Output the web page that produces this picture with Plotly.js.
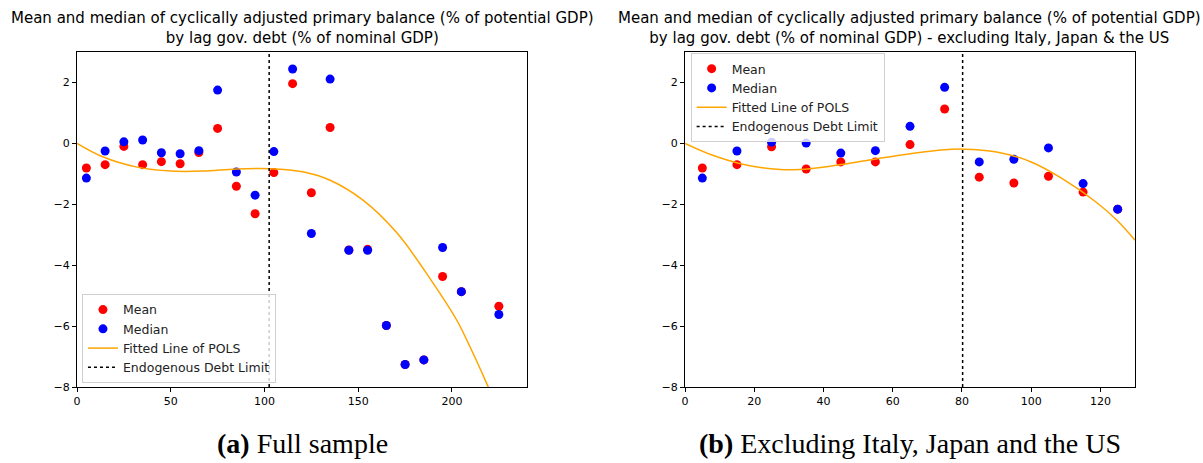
<!DOCTYPE html>
<html>
<head>
<meta charset="utf-8">
<script src="https://cdn.plot.ly/plotly-3.0.1.min.js"></script>
<style>html,body{margin:0;padding:0;background:#fff}#chart{width:1203px;height:463px}</style>
</head>
<body>
<div id="chart"></div>
<script>
// ---- Data ----
const leftDebt = [5,15,25,35,45,55,65,75,85,95,105,115,125,135,145,155,165,175,185,195,205,225];
const leftMean = [-0.81,-0.70,-0.10,-0.70,-0.60,-0.67,-0.30,0.49,-1.41,-2.31,-0.96,1.96,-1.62,0.52,-3.50,-3.48,-5.98,-7.26,-7.11,-4.37,-4.87,-5.35];
const leftMedian = [-1.14,-0.25,0.05,0.11,-0.31,-0.34,-0.24,1.75,-0.94,-1.70,-0.27,2.44,-2.96,2.11,-3.51,-3.51,-5.98,-7.26,-7.11,-3.42,-4.87,-5.62];
const leftFitX = [0,14,32,50,67,85,103,121,135,152.7,170.5,188.3,202.5,209.6,218.5,222];
const leftFitY = [0,-0.45,-0.78,-0.91,-0.91,-0.84,-0.83,-0.94,-1.21,-1.87,-2.93,-4.44,-5.80,-6.68,-7.88,-8.38];
const leftLimit = 102.5;

const rightDebt = [5,15,25,35,45,55,65,75,85,95,105,115,125];
const rightMean = [-0.81,-0.70,-0.11,-0.84,-0.61,-0.61,-0.04,1.13,-1.11,-1.30,-1.08,-1.60,-2.16];
const rightMedian = [-1.14,-0.25,0.04,0.01,-0.32,-0.24,0.56,1.84,-0.61,-0.52,-0.15,-1.32,-2.16];
const rightFitX = [0,8,18,27.5,33,42,51.5,61,74,80.5,90,100,109,119,125,130];
const rightFitY = [0,-0.39,-0.72,-0.86,-0.86,-0.75,-0.58,-0.41,-0.22,-0.19,-0.28,-0.61,-1.16,-1.95,-2.55,-3.18];
const rightLimit = 80.2;

const yRange = [-8, 3];
const leftTicks = [0,50,100,150,200];
const rightTicks = [0,20,40,60,80,100,120];
const yTicks = [-8,-6,-4,-2,0,2];

const titleA = "Mean and median of cyclically adjusted primary balance (% of potential GDP)<br>by lag gov. debt (% of nominal GDP)";
const titleB = "Mean and median of cyclically adjusted primary balance (% of potential GDP)<br>by lag gov. debt (% of nominal GDP) - excluding Italy, Japan & the US";
const captionA = "<b>(a)</b> Full sample";
const captionB = "<b>(b)</b> Excluding Italy, Japan and the US";

function panel(xa, ya, lg, debt, mean, median, fx, fy, limit) {
  return [
    {x: debt, y: mean, xaxis: xa, yaxis: ya, legend: lg, type: 'scatter', mode: 'markers', name: 'Mean',
     marker: {color: '#ff0000', size: 9}},
    {x: debt, y: median, xaxis: xa, yaxis: ya, legend: lg, type: 'scatter', mode: 'markers', name: 'Median',
     marker: {color: '#0000ff', size: 9}},
    {x: fx, y: fy, xaxis: xa, yaxis: ya, legend: lg, type: 'scatter', mode: 'lines', name: 'Fitted Line of POLS',
     line: {color: '#ffa500', width: 1.5, shape: 'spline', smoothing: 1}},
    {x: [limit, limit], y: yRange, xaxis: xa, yaxis: ya, legend: lg, type: 'scatter', mode: 'lines', name: 'Endogenous Debt Limit',
     line: {color: '#000000', width: 1.5, dash: 'dot'}}
  ];
}

const traces = [].concat(
  panel('x', 'y', 'legend', leftDebt, leftMean, leftMedian, leftFitX, leftFitY, leftLimit),
  panel('x2', 'y2', 'legend2', rightDebt, rightMean, rightMedian, rightFitX, rightFitY, rightLimit)
);

const axisBase = {
  showgrid: false, zeroline: false, showline: true, mirror: true, linecolor: '#000', linewidth: 1,
  ticks: 'outside', ticklen: 4, tickwidth: 1, tickcolor: '#000',
  tickfont: {family: 'DejaVu Sans', size: 11, color: '#000'}
};
const legendBase = {
  bgcolor: 'rgba(255,255,255,0.8)', bordercolor: '#d0d0d0', borderwidth: 1,
  font: {family: 'DejaVu Sans', size: 12.5, color: '#222'}, tracegroupgap: 0
};
const titleFont = {family: 'DejaVu Sans', size: 15, color: '#000'};
const capFont = {family: 'Liberation Serif', size: 28, color: '#000'};

const layout = {
  width: 1203, height: 463,
  margin: {l: 77, r: 68, t: 52, b: 76},
  paper_bgcolor: '#fff', plot_bgcolor: '#fff',
  showlegend: true,
  xaxis: Object.assign({}, axisBase, {domain: [0, 0.4253], range: [0, 240], tickvals: leftTicks, anchor: 'y'}),
  yaxis: Object.assign({}, axisBase, {domain: [0, 1], range: yRange, tickvals: yTicks, anchor: 'x'}),
  xaxis2: Object.assign({}, axisBase, {domain: [0.5747, 1], range: [0, 130], tickvals: rightTicks, anchor: 'y2'}),
  yaxis2: Object.assign({}, axisBase, {domain: [0, 1], range: yRange, tickvals: yTicks, anchor: 'x2'}),
  legend: Object.assign({}, legendBase, {x: 0.0047, y: 0.012, xanchor: 'left', yanchor: 'bottom'}),
  legend2: Object.assign({}, legendBase, {x: 0.580, y: 0.997, xanchor: 'left', yanchor: 'top'}),
  annotations: [
    {text: titleA, xref: 'paper', yref: 'paper', x: 0.2127, y: 1.0716, xanchor: 'center', yanchor: 'middle', showarrow: false, font: titleFont},
    {text: titleB, xref: 'paper', yref: 'paper', x: 0.7873, y: 1.0716, xanchor: 'center', yanchor: 'middle', showarrow: false, font: titleFont},
    {text: captionA, xref: 'paper', yref: 'paper', x: 0.2127, y: -0.168, xanchor: 'center', yanchor: 'middle', showarrow: false, font: capFont},
    {text: captionB, xref: 'paper', yref: 'paper', x: 0.7873, y: -0.168, xanchor: 'center', yanchor: 'middle', showarrow: false, font: capFont}
  ]
};

Plotly.newPlot('chart', traces, layout, {staticPlot: true, displayModeBar: false});
</script>
</body>
</html>
